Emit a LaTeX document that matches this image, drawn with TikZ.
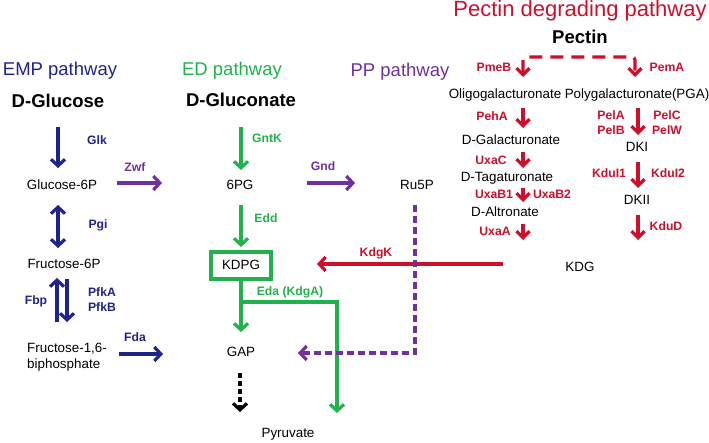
\documentclass[tikz,border=0pt]{standalone}
\usepackage{fontspec}
\setmainfont{Liberation Sans}
\usetikzlibrary{arrows.meta}
\definecolor{navy}{RGB}{31,35,140}
\definecolor{grn}{RGB}{34,177,76}
\definecolor{purp}{RGB}{112,48,160}
\definecolor{rd}{RGB}{204,16,44}
\tikzset{
  lbl/.style={inner sep=0pt, text height=0.72em, text depth=0pt, font=\fontsize{13.4}{16}\selectfont},
  enz/.style={inner sep=0pt, text height=0.72em, text depth=0pt, font=\fontsize{12.2}{14}\bfseries\selectfont},
  ttl/.style={inner sep=0pt, text height=0.72em, text depth=0pt, font=\fontsize{18.5}{22}\selectfont},
  sub/.style={inner sep=0pt, text height=0.72em, text depth=0pt, font=\fontsize{18.5}{22}\bfseries\selectfont},
  arr/.style={line width=3.2pt, -{Straight Barb[length=6.5pt,width=14pt]}},
  darr/.style={line width=3.2pt, {Straight Barb[length=6.5pt,width=14pt]}-{Straight Barb[length=6.5pt,width=14pt]}},
  rarr/.style={line width=3.2pt, -{Straight Barb[length=6.5pt,width=13pt]}},
}
\begin{document}
\begin{tikzpicture}[x=1pt,y=-1pt]
\useasboundingbox (0,0) rectangle (709,443);
% ---------- EMP ----------
\node[ttl, text=navy] (emp) at (60,72) {EMP pathway};
\node[sub] (glc) at (58,104) {D-Glucose};
\node[enz, text=navy] (glk) at (97,141) {Glk};
\node[lbl] (g6p) at (62,186) {Glucose-6P};
\node[enz, text=purp] (zwf) at (135,168) {Zwf};
\node[enz, text=navy] (pgi) at (98,225) {Pgi};
\node[lbl] (f6p) at (64,265) {Fructose-6P};
\node[enz, text=navy] (fbp) at (36,301) {Fbp};
\node[enz, text=navy] (pfka) at (102,293) {PfkA};
\node[enz, text=navy] (pfkb) at (102,308) {PfkB};
\node[inner sep=0pt, align=left, anchor=north west, font=\fontsize{13.4}{16}\selectfont] (fbisp) at (27,343) {Fructose-1,6-\\biphosphate};
\node[enz, text=navy] (fda) at (135,338) {Fda};
% ---------- ED ----------
\node[ttl, text=grn] (ed) at (232,72) {ED pathway};
\node[sub] (glcn) at (241,103) {D-Gluconate};
\node[enz, text=grn] (gntk) at (267,139) {GntK};
\node[lbl] (pg6) at (240,186) {6PG};
\node[enz, text=purp] (gnd) at (323,167) {Gnd};
\node[enz, text=grn] (edd) at (266,219) {Edd};
\node[lbl, draw=grn, line width=3.2pt, minimum width=60pt, minimum height=27pt] (kdpg) at (241,265.5) {KDPG};
\node[enz, text=grn] (eda) at (290,292) {Eda (KdgA)};
\node[lbl] (gap) at (241,353) {GAP};
\node[lbl] (pyr) at (288,434) {Pyruvate};
\node[enz, text=rd] (kdgk) at (376,253) {KdgK};
% ---------- PP ----------
\node[ttl, text=purp] (pp) at (400,73) {PP pathway};
\node[lbl] (ru5p) at (417,186) {Ru5P};
% ---------- Pectin ----------
\node[inner sep=0pt, text height=0.72em, text depth=0pt, font=\fontsize{22}{26}\selectfont, text=rd] (pect) at (580,12.5) {Pectin degrading pathway};
\node[sub] (pectin) at (580,40) {Pectin};
\node[enz, text=rd] (pmeb) at (494,68) {PmeB};
\node[enz, text=rd] (pema) at (667,68) {PemA};
\node[lbl] (oligo) at (505,95) {Oligogalacturonate};
\node[lbl] (poly) at (637,95) {Polygalacturonate(PGA)};
\node[enz, text=rd] (peha) at (492,117) {PehA};
\node[lbl] (dgal) at (511,141) {D-Galacturonate};
\node[enz, text=rd] (pela) at (611,116) {PelA};
\node[enz, text=rd] (pelb) at (611,131) {PelB};
\node[enz, text=rd] (pelc) at (667,116) {PelC};
\node[enz, text=rd] (pelw) at (667,131) {PelW};
\node[lbl] (dki) at (637,148) {DKI};
\node[enz, text=rd] (uxac) at (491,161) {UxaC};
\node[lbl] (dtag) at (507,178) {D-Tagaturonate};
\node[enz, text=rd] (uxab1) at (494,195) {UxaB1};
\node[enz, text=rd] (uxab2) at (552,195) {UxaB2};
\node[lbl] (dalt) at (505,213) {D-Altronate};
\node[enz, text=rd] (uxaa) at (495,232) {UxaA};
\node[enz, text=rd] (kdui1) at (609,174) {KduI1};
\node[enz, text=rd] (kdui2) at (668,174) {KduI2};
\node[lbl] (dkii) at (637,201) {DKII};
\node[enz, text=rd] (kdud) at (666,227) {KduD};
\node[lbl] (kdg) at (580,268) {KDG};
% ---------- coordinates ----------
\coordinate (a1) at (58,127); \coordinate (a2) at (58,168);
\coordinate (z1) at (117,183); \coordinate (z2) at (162,183);
\coordinate (p1) at (58,205); \coordinate (p2) at (58,248);
\coordinate (fb1) at (57,322); \coordinate (fb2) at (57,278);
\coordinate (pf1) at (67,279); \coordinate (pf2) at (67,322);
\coordinate (fd1) at (119,354); \coordinate (fd2) at (163,354);
\coordinate (gk1) at (241,127); \coordinate (gk2) at (241,170);
\coordinate (gn1) at (307,183); \coordinate (gn2) at (355,183);
\coordinate (ed1) at (241,205); \coordinate (ed2) at (241,247);
\coordinate (ea1) at (241,332); \coordinate (eb) at (241,302);
\coordinate (ec) at (337,302); \coordinate (ed3) at (337,413);
\coordinate (kk1) at (503,264); \coordinate (kk2) at (317,264);
\coordinate (r1) at (415,205); \coordinate (r2) at (415,353); \coordinate (r3) at (298,353);
\coordinate (b1) at (240,373); \coordinate (b2) at (240,412);
\coordinate (pc1) at (523,77); \coordinate (pc2) at (523,57);
\coordinate (pc3) at (635,57); \coordinate (pc4) at (635,77);
\coordinate (ph1) at (523,108); \coordinate (ph2) at (523,128);
\coordinate (pl1) at (638,108); \coordinate (pl2) at (638,135);
\coordinate (uc1) at (523,152); \coordinate (uc2) at (523,168);
\coordinate (ub1) at (523,188); \coordinate (ub2) at (523,202);
\coordinate (ua1) at (523,224); \coordinate (ua2) at (523,240);
\coordinate (ki1) at (638,162); \coordinate (ki2) at (638,188);
\coordinate (kd1) at (638,215); \coordinate (kd2) at (638,240);
% ---------- connectors ----------
\draw[arr, navy] (a1) -- (a2);
\draw[arr, purp] (z1) -- (z2);
\draw[darr, navy] (p1) -- (p2);
\draw[arr, navy] (fb1) -- (fb2);
\draw[arr, navy] (pf1) -- (pf2);
\draw[arr, navy] (fd1) -- (fd2);
\draw[arr, grn] (gk1) -- (gk2);
\draw[arr, purp] (gn1) -- (gn2);
\draw[arr, grn] (ed1) -- (ed2);
\draw[arr, grn] (kdpg.south) -- (ea1);
\draw[arr, grn] (eb) -- (ec) -- (ed3);
\draw[arr, rd] (kk1) -- (kk2);
\draw[arr, purp, dash pattern=on 7pt off 4pt] (r1) -- (r2) -- (r3);
\draw[black, line width=3.2pt, dash pattern=on 5pt off 3pt, -{Straight Barb[length=6.5pt,width=14pt]}] (b1) -- (b2);
\draw[rd, line width=3.2pt, rounded corners=3pt, dash pattern=on 13pt off 8pt, {Straight Barb[length=6.5pt,width=13pt]}-{Straight Barb[length=6.5pt,width=13pt]}] (pc1) -- (pc2) -- (pc3) -- (pc4);
\draw[rarr, rd] (ph1) -- (ph2);
\draw[rarr, rd] (pl1) -- (pl2);
\draw[rarr, rd] (uc1) -- (uc2);
\draw[rarr, rd] (ub1) -- (ub2);
\draw[rarr, rd] (ua1) -- (ua2);
\draw[rarr, rd] (ki1) -- (ki2);
\draw[rarr, rd] (kd1) -- (kd2);
\end{tikzpicture}
\end{document}
